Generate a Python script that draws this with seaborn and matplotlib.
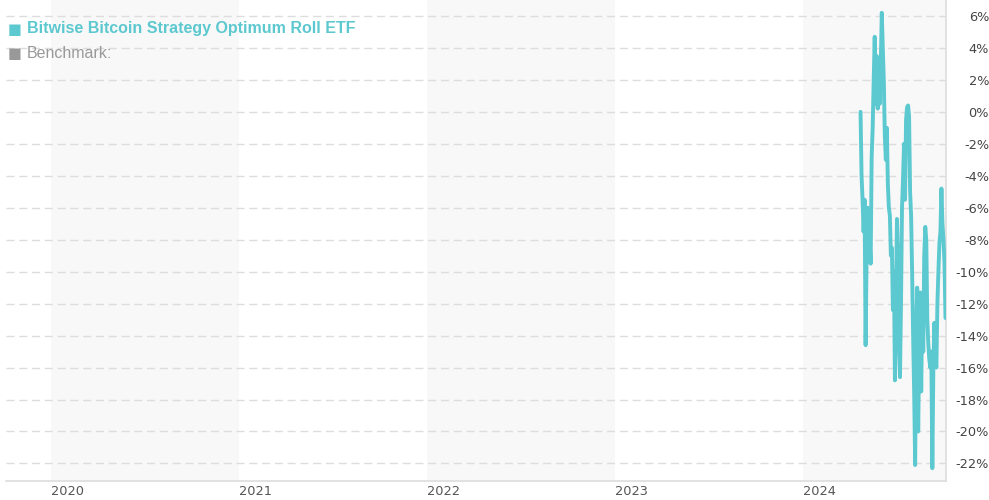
import pandas as pd
import numpy as np
import matplotlib.pyplot as plt
import matplotlib.dates as mdates
from matplotlib.ticker import FuncFormatter
import seaborn as sns

# Fund return since inception (%)
start_date = '2024-04-22'
end_date = '2024-10-04'
returns = [0.0, -4.0, -5.5, -7.5, -5.5, -14.6, -9.0, -6.0, -9.3, -8.0,
           -9.5, -2.8, -1.0, 2.0, 4.7, 0.5, 3.5, 0.2, 2.5, 0.5,
           3.0, 6.2, 4.0, 2.0, -1.5, -3.0, -1.0, -4.5, -6.0, -6.5,
           -9.0, -8.5, -12.4, -10.0, -16.8, -12.0, -6.7, -9.0, -14.5, -16.6,
           -12.0, -6.0, -4.2, -2.0, -5.5, -0.5, 0.3, 0.4, -0.3, -5.0,
           -6.5, -10.0, -14.0, -17.5, -22.1, -14.0, -11.0, -20.0, -15.0, -11.3,
           -17.5, -12.0, -15.0, -9.0, -7.2, -8.0, -13.0, -14.5, -15.5, -16.0,
           -15.0, -22.3, -16.0, -13.2, -15.5, -16.0, -12.0, -10.0, -8.2, -7.5,
           -4.8, -7.0, -8.0, -9.5, -12.9]
years = [2020, 2021, 2022, 2023, 2024]
y_ticks = list(range(6, -23, -2))

fund_name = 'Bitwise Bitcoin Strategy Optimum Roll ETF'
line_color = '#5cc8cf'

df = pd.DataFrame({
    'Date': pd.date_range(start_date, end_date, periods=len(returns)),
    'Return': returns,
})

sns.set_style('white')
plt.rcParams['font.family'] = ['DejaVu Sans']

fig = plt.figure(figsize=(9.89, 5.0), dpi=100)
ax = fig.add_axes([6 / 989, 19 / 500, 940 / 989, 481 / 500])

x_min = pd.Timestamp('2019-10-06')
x_max = pd.Timestamp('2024-10-05')

# Alternating year bands
for yr in years[::2]:
    ax.axvspan(pd.Timestamp(f'{yr}-01-01'), pd.Timestamp(f'{yr + 1}-01-01'),
               color='#f8f8f8', lw=0, zorder=0)

for t in y_ticks:
    ax.axhline(t, color='#dddddd', lw=1, dashes=(5.8, 3.4), zorder=1)

sns.lineplot(data=df, x='Date', y='Return', ax=ax, color=line_color,
             linewidth=2.8, zorder=3)

ax.set_xlim(x_min, x_max)
ax.set_ylim(-23.1, 7.0)

ax.set_xticks([pd.Timestamp(f'{yr}-01-01') for yr in years])
ax.xaxis.set_major_formatter(mdates.DateFormatter('%Y'))
ax.tick_params(axis='x', length=0, pad=3, labelsize=9.3, labelcolor='#555555')
for lbl in ax.get_xticklabels():
    lbl.set_horizontalalignment('left')

ax.yaxis.tick_right()
ax.set_yticks(y_ticks)
ax.yaxis.set_major_formatter(FuncFormatter(lambda v, p: f'{v:.0f}%'))
ax.tick_params(axis='y', length=0, pad=31, labelsize=9.3, labelcolor='#444444')
for lbl in ax.get_yticklabels():
    lbl.set_horizontalalignment('right')

ax.set_xlabel('')
ax.set_ylabel('')
for side in ['top', 'left']:
    ax.spines[side].set_visible(False)
for side in ['right', 'bottom']:
    ax.spines[side].set_color('#dddddd')
    ax.spines[side].set_linewidth(1.2)

# Legend block top-left
fig.text(8 / 989, 1 - 29 / 500, '\u25a0', color=line_color, fontsize=10.5,
         va='center', ha='left', family='DejaVu Sans')
fig.text(27 / 989, 1 - 29 / 500, fund_name, color=line_color, fontsize=11.5,
         fontweight='bold', va='center', ha='left', family='Liberation Sans')
fig.text(8 / 989, 1 - 53 / 500, '\u25a0', color='#999999', fontsize=10.5,
         va='center', ha='left', family='DejaVu Sans')
fig.text(27 / 989, 1 - 53 / 500, 'Benchmark:', color='#999999', fontsize=11.5,
         va='center', ha='left', family='Liberation Sans')

fig.savefig('out.png', dpi=100)
